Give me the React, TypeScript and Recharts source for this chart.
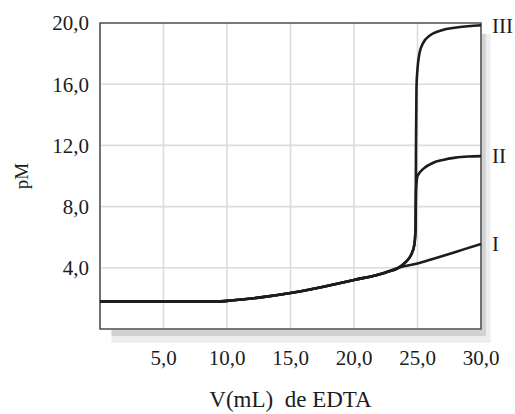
// Titration curves (pM vs. volume of EDTA) for three metal ions, serif textbook style.

import { CartesianGrid, LabelList, Line, LineChart, ReferenceArea, XAxis, YAxis } from 'recharts'

const X_TICKS = [5, 10, 15, 20, 25, 30]
const Y_TICKS = [4, 8, 12, 16, 20]

// shared pre-equivalence part
const BASE = [
  { x: 0, y: 1.8 },
  { x: 5, y: 1.8 },
  { x: 9, y: 1.8 },
  { x: 10.5, y: 1.88 },
  { x: 12.5, y: 2.05 },
  { x: 15, y: 2.35 },
  { x: 17.5, y: 2.75 },
  { x: 20, y: 3.2 },
  { x: 22.5, y: 3.7 },
  { x: 23.5, y: 4.0 },
]

const CURVE_I = [
  ...BASE,
  { x: 25, y: 4.28 },
  { x: 26, y: 4.52 },
  { x: 27.3, y: 4.85 },
  { x: 28.7, y: 5.22 },
  { x: 30, y: 5.55 },
]

const RISE = [
  { x: 24.1, y: 4.4 },
  { x: 24.5, y: 4.85 },
  { x: 24.75, y: 5.5 },
  { x: 24.85, y: 6.6 },
]

const CURVE_II = [
  ...BASE,
  ...RISE,
  { x: 24.88, y: 9.0 },
  { x: 25.0, y: 10.0 },
  { x: 25.5, y: 10.5 },
  { x: 26.2, y: 10.85 },
  { x: 27.0, y: 11.05 },
  { x: 28.0, y: 11.2 },
  { x: 29.0, y: 11.27 },
  { x: 30, y: 11.3 },
]

const CURVE_III = [
  ...BASE,
  ...RISE,
  { x: 24.88, y: 12.0 },
  { x: 24.92, y: 15.8 },
  { x: 25.0, y: 17.0 },
  { x: 25.15, y: 18.0 },
  { x: 25.45, y: 18.7 },
  { x: 26.0, y: 19.2 },
  { x: 27.0, y: 19.55 },
  { x: 28.2, y: 19.72 },
  { x: 30, y: 19.85 },
]

const SERIES = [
  { name: 'I', data: CURVE_I },
  { name: 'II', data: CURVE_II },
  { name: 'III', data: CURVE_III },
]

const FONT = '"Liberation Serif", "DejaVu Serif", serif'
const INK = '#1c1c1c'
const fmt = (v: number) => v.toFixed(1).replace('.', ',')

function endTag(name: string, last: number) {
  return (p: any) => {
    if (p.index !== last) return null
    return (
      <text x={Number(p.x) + 11} y={Number(p.y)} dy="0.35em" fontFamily={FONT} fontSize={21} fill={INK}>
        {name}
      </text>
    )
  }
}

export default function App() {
  return (
    <div style={{ position: 'absolute', left: 0, top: 0, background: '#fff' }}>
      <LineChart width={515} height={414} margin={{ top: 23, right: 34, bottom: 0, left: 0 }}>
        <XAxis
          type="number"
          dataKey="x"
          domain={[0, 30]}
          ticks={X_TICKS}
          tickFormatter={fmt}
          axisLine={false}
          tickLine={false}
          tickSize={0}
          tickMargin={21}
          height={85}
          tick={{ fill: INK, fontSize: 21, fontFamily: FONT }}
          label={{ value: 'V(mL)\u00a0 de EDTA', position: 'insideBottom', offset: 7, fill: INK, fontSize: 23, fontFamily: FONT }}
        />
        <YAxis
          yAxisId="lbl"
          orientation="left"
          width={42}
          domain={[0, 20]}
          tick={false}
          axisLine={false}
          tickLine={false}
          label={{ value: 'pM', angle: -90, position: 'center', fill: INK, fontSize: 19, fontFamily: FONT }}
        />
        <YAxis
          type="number"
          domain={[0, 20]}
          ticks={Y_TICKS}
          tickFormatter={fmt}
          axisLine={false}
          tickLine={false}
          tickSize={0}
          tickMargin={11}
          width={58}
          tick={{ fill: INK, fontSize: 21, fontFamily: FONT }}
        />
        {/* soft drop shadow below and right of the frame */}
        <ReferenceArea x1={0.9} x2={30.5} y1={-0.9} y2={-0.45} fill="#ededed" fillOpacity={1} stroke="none" ifOverflow="visible" />
        <ReferenceArea x1={0.9} x2={30.5} y1={-0.45} y2={0} fill="#d2d2d2" fillOpacity={1} stroke="none" ifOverflow="visible" />
        <ReferenceArea x1={30.38} x2={30.75} y1={-0.9} y2={19.3} fill="#ededed" fillOpacity={1} stroke="none" ifOverflow="visible" />
        <ReferenceArea x1={30} x2={30.38} y1={-0.45} y2={19.3} fill="#d2d2d2" fillOpacity={1} stroke="none" ifOverflow="visible" />
        <CartesianGrid stroke="#dcdcdc" strokeWidth={1.6} />
        {SERIES.map((s) => (
          <Line
            key={s.name}
            data={s.data}
            dataKey="y"
            type="monotone"
            stroke={INK}
            strokeWidth={2.6}
            dot={false}
            activeDot={false}
            isAnimationActive={false}
          >
            <LabelList dataKey="y" content={endTag(s.name, s.data.length - 1)} />
          </Line>
        ))}
        <ReferenceArea x1={0} x2={30} y1={0} y2={20} fill="none" stroke="#555" strokeWidth={1.6} />
      </LineChart>
    </div>
  )
}
